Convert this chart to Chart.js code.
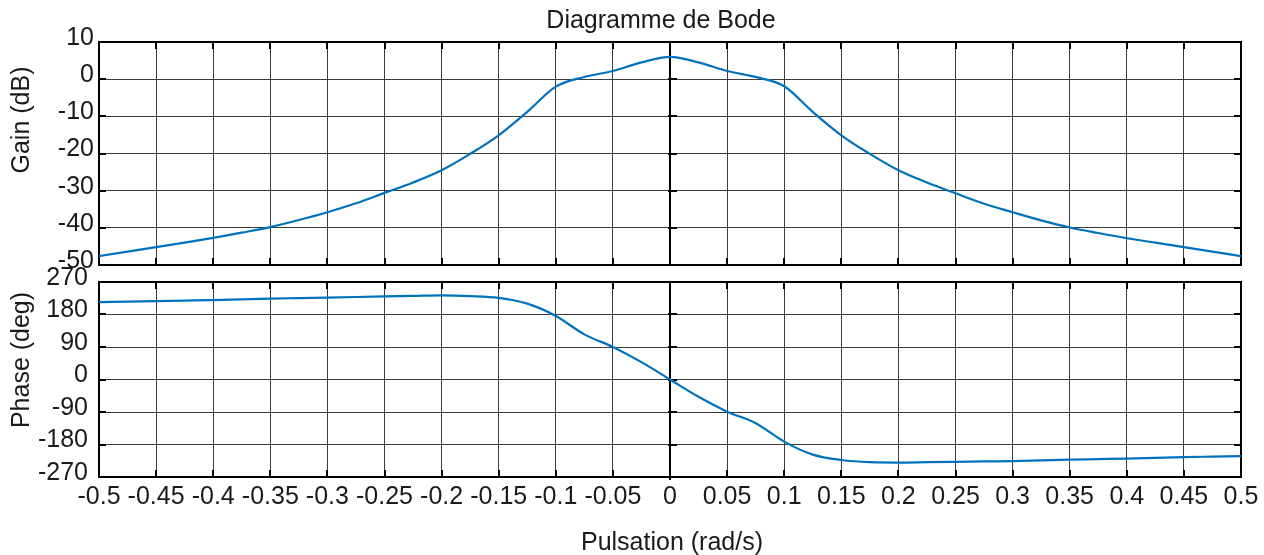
<!DOCTYPE html>
<html>
<head>
<meta charset="utf-8">
<script src="https://cdn.jsdelivr.net/npm/chart.js@4/dist/chart.umd.min.js"></script>
<style>
  html, body { margin: 0; padding: 0; background: #fff; }
  #wrap { position: relative; width: 1264px; height: 555px; overflow: hidden; }
  canvas { position: absolute; left: 0; }
  #cGain { top: 0; }
  #cPhase { top: 262px; }
</style>
</head>
<body>
<div id="wrap">
  <canvas id="cGain" width="1264" height="272"></canvas>
  <canvas id="cPhase" width="1264" height="293"></canvas>
</div>
<script>
// ---------- data ----------
const xTicks = [-0.5,-0.45,-0.4,-0.35,-0.3,-0.25,-0.2,-0.15,-0.1,-0.05,0,0.05,0.1,0.15,0.2,0.25,0.3,0.35,0.4,0.45,0.5];
const xTickLabels = ['-0.5','-0.45','-0.4','-0.35','-0.3','-0.25','-0.2','-0.15','-0.1','-0.05','0','0.05','0.1','0.15','0.2','0.25','0.3','0.35','0.4','0.45','0.5'];
const gainTicks = [10,0,-10,-20,-30,-40,-50];
const gainTickLabels = ['10','0','-10','-20','-30','-40','-50'];
const phaseTicks = [270,180,90,0,-90,-180,-270];
const phaseTickLabels = ['270','180','90','0','-90','-180','-270'];

// pulsation (rad/s), read every 0.025
const freq = [-0.5,-0.475,-0.45,-0.425,-0.4,-0.375,-0.35,-0.325,-0.3,-0.275,-0.25,-0.225,-0.2,-0.175,-0.15,-0.125,-0.1,-0.075,-0.05,-0.025,
              0,0.025,0.05,0.075,0.1,0.125,0.15,0.175,0.2,0.225,0.25,0.275,0.3,0.325,0.35,0.375,0.4,0.425,0.45,0.475,0.5];
// gain (dB)
const gainDb = [-47.6,-46.4,-45.2,-44.0,-42.7,-41.3,-39.8,-37.9,-35.8,-33.4,-30.6,-27.8,-24.5,-20.1,-15.1,-8.8,-2.0,0.6,2.2,4.5,
                6.0,4.5,2.2,0.6,-1.9,-8.8,-15.1,-20.1,-24.5,-27.8,-30.7,-33.5,-35.8,-38.0,-39.9,-41.4,-42.8,-44.0,-45.2,-46.4,-47.6];
// phase (deg)
const phaseDeg = [214,215.5,217,218.5,220,222,224,225.5,227,228.5,230,231.5,233,231,226,210,176,125,90,48,
                  0,-48,-89,-121,-172,-208,-223,-229,-230,-229,-228,-227,-226,-224,-222,-220.5,-219,-217,-215,-213.5,-212];

// ---------- style ----------
const FONT = '"Liberation Sans", Arial, Helvetica, sans-serif';
const LINE = '#0072BD';
const GRID = '#3a3a3a';
const TEXT = '#1a1a1a';

const axesPlugin = {
  id: 'matlabAxes',
  beforeDatasetsDraw(chart, args, opts) {
    const {ctx, chartArea: a, scales} = chart;
    const x = scales.x, y = scales.y;
    const tl = 7;
    ctx.save();
    ctx.strokeStyle = '#000';
    ctx.lineWidth = 2;
    ctx.beginPath();
    x.ticks.forEach(t => {
      const px = Math.round(x.getPixelForValue(t.value));
      ctx.moveTo(px, a.top); ctx.lineTo(px, a.top + tl);
      ctx.moveTo(px, a.bottom); ctx.lineTo(px, a.bottom - tl);
    });
    y.ticks.forEach(t => {
      const py = Math.round(y.getPixelForValue(t.value));
      ctx.moveTo(a.left, py); ctx.lineTo(a.left + tl, py);
      ctx.moveTo(a.right, py); ctx.lineTo(a.right - tl, py);
    });
    ctx.stroke();
    const x0 = Math.round(x.getPixelForValue(0));
    ctx.beginPath();
    ctx.moveTo(x0, a.top); ctx.lineTo(x0, a.bottom + (opts.zeroExtend || 0));
    y.ticks.forEach(t => {
      const py = Math.round(y.getPixelForValue(t.value));
      ctx.moveTo(x0 - 2, py); ctx.lineTo(x0 + tl, py);
    });
    ctx.stroke();
    ctx.strokeRect(a.left, a.top, a.right - a.left, a.bottom - a.top);
    ctx.restore();
  },
  afterDraw(chart, args, opts) {
    const ctx = chart.ctx;
    (opts.texts || []).forEach(t => {
      ctx.save();
      ctx.font = '25px ' + FONT;
      ctx.fillStyle = TEXT;
      ctx.textAlign = 'center';
      ctx.textBaseline = 'alphabetic';
      ctx.translate(t.x, t.y);
      if (t.rotate) ctx.rotate(-Math.PI / 2);
      ctx.fillText(t.text, 0, 0);
      ctx.restore();
    });
  }
};

function noPad(s) { s.paddingTop = 0; s.paddingBottom = 0; s.paddingLeft = 0; s.paddingRight = 0; }

function xScale(showLabels, height) {
  return {
    type: 'linear', min: -0.5, max: 0.5,
    afterBuildTicks: s => { s.ticks = xTicks.map(v => ({value: v})); },
    afterFit: s => { s.height = height; noPad(s); },
    grid: { color: GRID, lineWidth: 1, drawTicks: false },
    border: { display: false },
    ticks: {
      display: showLabels, autoSkip: false, maxRotation: 0, minRotation: 0,
      padding: 5, color: TEXT, font: { family: FONT, size: 25 },
      callback: (v, i) => xTickLabels[i]
    }
  };
}
function yScale(min, max, ticks, labels, pad) {
  return {
    type: 'linear', min: min, max: max,
    afterBuildTicks: s => { s.ticks = ticks.map(v => ({value: v})); },
    afterFit: s => { s.width = 99; noPad(s); },
    grid: { color: GRID, lineWidth: 1, drawTicks: false },
    border: { display: false },
    ticks: {
      autoSkip: false, padding: pad, labelOffset: -4, color: TEXT,
      font: { family: FONT, size: 25 },
      callback: (v, i) => labels[i]
    }
  };
}

new Chart(document.getElementById('cGain'), {
  type: 'line',
  data: { datasets: [{
    data: freq.map((f, i) => ({x: f, y: gainDb[i]})),
    borderColor: LINE, borderWidth: 2.2, pointRadius: 0, cubicInterpolationMode: 'monotone', fill: false
  }]},
  options: {
    responsive: false, animation: false, events: [],
    layout: { padding: { top: 42, right: 23, bottom: 7, left: 0 } },
    plugins: {
      legend: { display: false }, tooltip: { enabled: false },
      matlabAxes: { texts: [
        { text: 'Diagramme de Bode', x: 661, y: 27.5 },
        { text: 'Gain (dB)', x: 29, y: 120, rotate: true }
      ]}
    },
    scales: {
      x: xScale(false, 0),
      y: yScale(-50, 10, gainTicks, gainTickLabels, 5)
    }
  },
  plugins: [axesPlugin]
});

new Chart(document.getElementById('cPhase'), {
  type: 'line',
  data: { datasets: [{
    data: freq.map((f, i) => ({x: f, y: phaseDeg[i]})),
    borderColor: LINE, borderWidth: 2.2, pointRadius: 0, cubicInterpolationMode: 'monotone', fill: false
  }]},
  options: {
    responsive: false, animation: false, events: [],
    layout: { padding: { top: 20, right: 23, bottom: 0, left: 0 } },
    plugins: {
      legend: { display: false }, tooltip: { enabled: false },
      matlabAxes: { zeroExtend: 3, texts: [
        { text: 'Phase (deg)', x: 29, y: 98, rotate: true },
        { text: 'Pulsation (rad/s)', x: 672, y: 287.5 }
      ]}
    },
    scales: {
      x: xScale(true, 78),
      y: yScale(-270, 270, phaseTicks, phaseTickLabels, 11)
    }
  },
  plugins: [axesPlugin]
});
</script>
</body>
</html>
